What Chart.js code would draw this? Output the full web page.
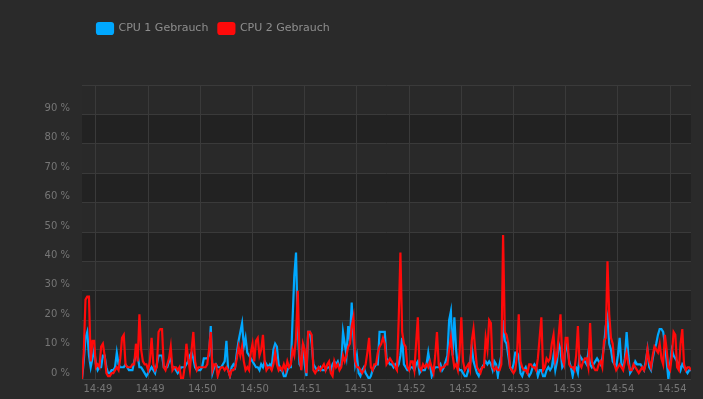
<!DOCTYPE html>
<html>
<head>
<meta charset="utf-8">
<script src="https://cdn.jsdelivr.net/npm/chart.js@4/dist/chart.umd.min.js"></script>
<style>
  html, body { margin: 0; padding: 0; background: #2a2a2a; }
  canvas { display: block; }
</style>
</head>
<body>
<canvas id="cpuChart" width="703" height="399"></canvas>
<script>
// one sample per second, starting 14:48:52
const startSec = 14 * 3600 + 48 * 60 + 52;
const seriesNames = ['CPU 1 Gebrauch', 'CPU 2 Gebrauch'];

const cpu1 = [
  0, 6, 14, 16, 8, 4, 7, 10, 5, 3,
  4, 4, 8, 8, 4, 2, 2, 3, 3, 4,
  9, 5, 4, 4, 4, 5, 4, 3, 3, 3,
  6, 8, 8, 4, 4, 3, 2, 1, 2, 3,
  4, 3, 2, 5, 8, 8, 8, 4, 4, 4,
  6, 7, 4, 4, 3, 2, 3, 4, 4, 4,
  5, 6, 8, 9, 7, 4, 3, 3, 3, 4,
  7, 7, 7, 8, 18, 2, 4, 5, 4, 4,
  4, 5, 6, 13, 3, 1, 4, 5, 4, 9,
  13, 16, 19, 11, 14, 9, 8, 7, 6, 5,
  4, 4, 3, 5, 4, 6, 5, 4, 5, 4,
  10, 12, 11, 5, 3, 3, 1, 1, 3, 4,
  4, 20, 35, 43, 18, 5, 4, 12, 5, 1,
  16, 16, 12, 5, 4, 3, 3, 4, 3, 3,
  3, 4, 4, 3, 5, 6, 5, 6, 4, 5,
  16, 12, 8, 18, 13, 26, 14, 5, 8, 2,
  1, 3, 4, 2, 1, 0, 1, 3, 4, 5,
  5, 16, 16, 16, 16, 7, 6, 5, 5, 4,
  5, 4, 5, 8, 14, 5, 4, 3, 3, 4,
  4, 3, 5, 6, 2, 3, 3, 3, 5, 9,
  5, 1, 3, 4, 4, 4, 5, 3, 4, 6,
  8, 20, 23, 8, 21, 10, 4, 3, 3, 2,
  1, 1, 3, 5, 11, 6, 4, 2, 1, 3,
  4, 5, 6, 5, 6, 5, 3, 6, 5, 1,
  5, 8, 20, 13, 12, 8, 4, 3, 5, 9,
  9, 8, 2, 1, 3, 4, 2, 1, 2, 4,
  5, 4, 1, 3, 3, 1, 1, 3, 4, 3,
  4, 8, 3, 6, 12, 10, 4, 5, 12, 10,
  6, 4, 1, 4, 4, 2, 8, 7, 6, 6,
  5, 9, 5, 4, 5, 6, 7, 6, 5, 7,
  11, 18, 21, 12, 10, 6, 5, 4, 8, 14,
  5, 4, 7, 16, 8, 2, 3, 4, 6, 5,
  5, 5, 4, 3, 6, 10, 4, 3, 7, 10,
  12, 15, 17, 17, 16, 12, 6, 0, 5, 10,
  8, 7, 6, 5, 3, 5, 4, 3, 2, 3,
  3
];

const cpu2 = [
  0, 9, 27, 28, 28, 6, 13, 13, 4, 5,
  4, 11, 12, 8, 2, 1, 1, 2, 2, 3,
  4, 3, 7, 14, 15, 5, 4, 4, 4, 5,
  5, 12, 6, 22, 10, 6, 5, 5, 3, 6,
  14, 5, 3, 4, 16, 17, 17, 4, 3, 5,
  7, 11, 3, 4, 4, 3, 4, 0, 0, 4,
  12, 7, 3, 10, 16, 6, 3, 4, 4, 4,
  4, 4, 5, 10, 16, 3, 5, 5, 1, 3,
  4, 4, 3, 4, 3, 1, 3, 3, 4, 7,
  11, 8, 11, 6, 3, 4, 3, 9, 12, 6,
  13, 14, 8, 10, 15, 6, 3, 4, 4, 3,
  5, 9, 5, 3, 4, 3, 5, 3, 6, 4,
  5, 10, 8, 14, 30, 8, 3, 12, 10, 2,
  16, 16, 15, 3, 2, 3, 4, 3, 4, 5,
  3, 5, 6, 2, 1, 6, 4, 5, 3, 4,
  8, 6, 8, 11, 12, 18, 21, 6, 4, 4,
  3, 2, 3, 5, 9, 14, 4, 3, 5, 5,
  9, 11, 12, 14, 12, 5, 6, 7, 6, 5,
  4, 3, 20, 43, 16, 12, 11, 4, 3, 6,
  6, 3, 12, 21, 4, 3, 5, 4, 5, 4,
  6, 4, 2, 8, 16, 5, 3, 4, 4, 5,
  5, 10, 14, 8, 4, 5, 3, 9, 21, 6,
  3, 4, 5, 3, 13, 17, 10, 4, 3, 2,
  4, 4, 14, 10, 20, 19, 4, 3, 4, 3,
  3, 5, 49, 16, 15, 12, 4, 3, 2, 3,
  8, 22, 6, 4, 3, 3, 2, 5, 5, 4,
  4, 3, 7, 14, 21, 3, 4, 7, 6, 7,
  12, 15, 6, 8, 15, 22, 7, 5, 14, 14,
  5, 4, 4, 3, 8, 18, 5, 4, 6, 7,
  7, 4, 19, 6, 4, 3, 3, 5, 6, 4,
  13, 14, 40, 22, 14, 12, 5, 3, 4, 5,
  4, 3, 6, 9, 5, 3, 3, 5, 4, 3,
  2, 3, 4, 3, 5, 10, 6, 4, 8, 11,
  10, 9, 12, 7, 5, 15, 10, 4, 3, 8,
  16, 15, 4, 3, 12, 17, 5, 3, 4, 4,
  3
];

const times = cpu1.map((_, i) => startSec + i);
const toPoints = vals => vals.map((v, i) => ({ x: times[i], y: v }));

function hhmm(sec) {
  const h = Math.floor(sec / 3600);
  const m = Math.floor((sec % 3600) / 60);
  return h + ':' + String(m).padStart(2, '0');
}

// striped background + outer fill
const bands = {
  id: 'bands',
  beforeDraw(chart) {
    const { ctx, chartArea: a, scales: { y } } = chart;
    ctx.save();
    ctx.fillStyle = '#2a2a2a';
    ctx.fillRect(0, 0, chart.width, chart.height);
    const ticks = y.ticks;
    for (let i = 0; i < ticks.length - 1; i++) {
      const top = y.getPixelForValue(ticks[i + 1].value);
      const bot = y.getPixelForValue(ticks[i].value);
      ctx.fillStyle = (i % 2 === 0) ? '#222222' : '#292929';
      ctx.fillRect(a.left, top, a.right - a.left, bot - top);
    }
    ctx.restore();
  }
};

// extra room under the legend, legend moved right
const legendSpace = {
  id: 'legendSpace',
  beforeInit(chart) {
    const fit = chart.legend.fit;
    chart.legend.fit = function () {
      fit.call(this);
      this.height += 41;
    };
  },
  afterLayout(chart) {
    chart.legend.left = 87;
  }
};

new Chart(document.getElementById('cpuChart'), {
  type: 'line',
  data: {
    datasets: [{
      label: seriesNames[0],
      data: toPoints(cpu1),
      borderColor: '#00a8ff',
      backgroundColor: '#00a8ff',
      order: 1
    }, {
      label: seriesNames[1],
      data: toPoints(cpu2),
      borderColor: '#ff0a0a',
      backgroundColor: '#ff0a0a',
      order: 0
    }]
  },
  options: {
    responsive: false,
    animation: false,
    layout: { padding: { top: 13, right: 12, bottom: 0, left: 0 } },
    elements: {
      point: { radius: 0 },
      line: { borderWidth: 2.2, tension: 0 }
    },
    plugins: {
      tooltip: { enabled: false },
      legend: {
        align: 'start',
        labels: {
          boxWidth: 16,
          boxHeight: 11,
          useBorderRadius: true,
          borderRadius: 2,
          padding: 10,
          color: '#8e8e8e',
          font: { family: 'DejaVu Sans', size: 11 },
          sort: (a, b) => a.datasetIndex - b.datasetIndex
        }
      }
    },
    scales: {
      x: {
        type: 'linear',
        min: startSec,
        max: startSec + 350,
        grid: { color: '#3a3a3a', drawTicks: false },
        border: { display: false },
        ticks: {
          stepSize: 30,
          includeBounds: false,
          maxTicksLimit: 20,
          autoSkip: false,
          maxRotation: 0,
          padding: 4,
          labelOffset: 2,
          color: '#767676',
          font: { family: 'DejaVu Sans', size: 10 },
          callback: v => hhmm(v)
        }
      },
      y: {
        min: 0,
        max: 100,
        afterFit(scale) { scale.width = 82; },
        grid: { color: '#3a3a3a', drawTicks: false },
        border: { display: false },
        ticks: {
          stepSize: 10,
          padding: 12,
          labelOffset: -6,
          color: '#767676',
          font: { family: 'DejaVu Sans', size: 10 },
          callback: v => v === 100 ? '' : v + ' %'
        }
      }
    }
  },
  plugins: [bands, legendSpace]
});
</script>
</body>
</html>
